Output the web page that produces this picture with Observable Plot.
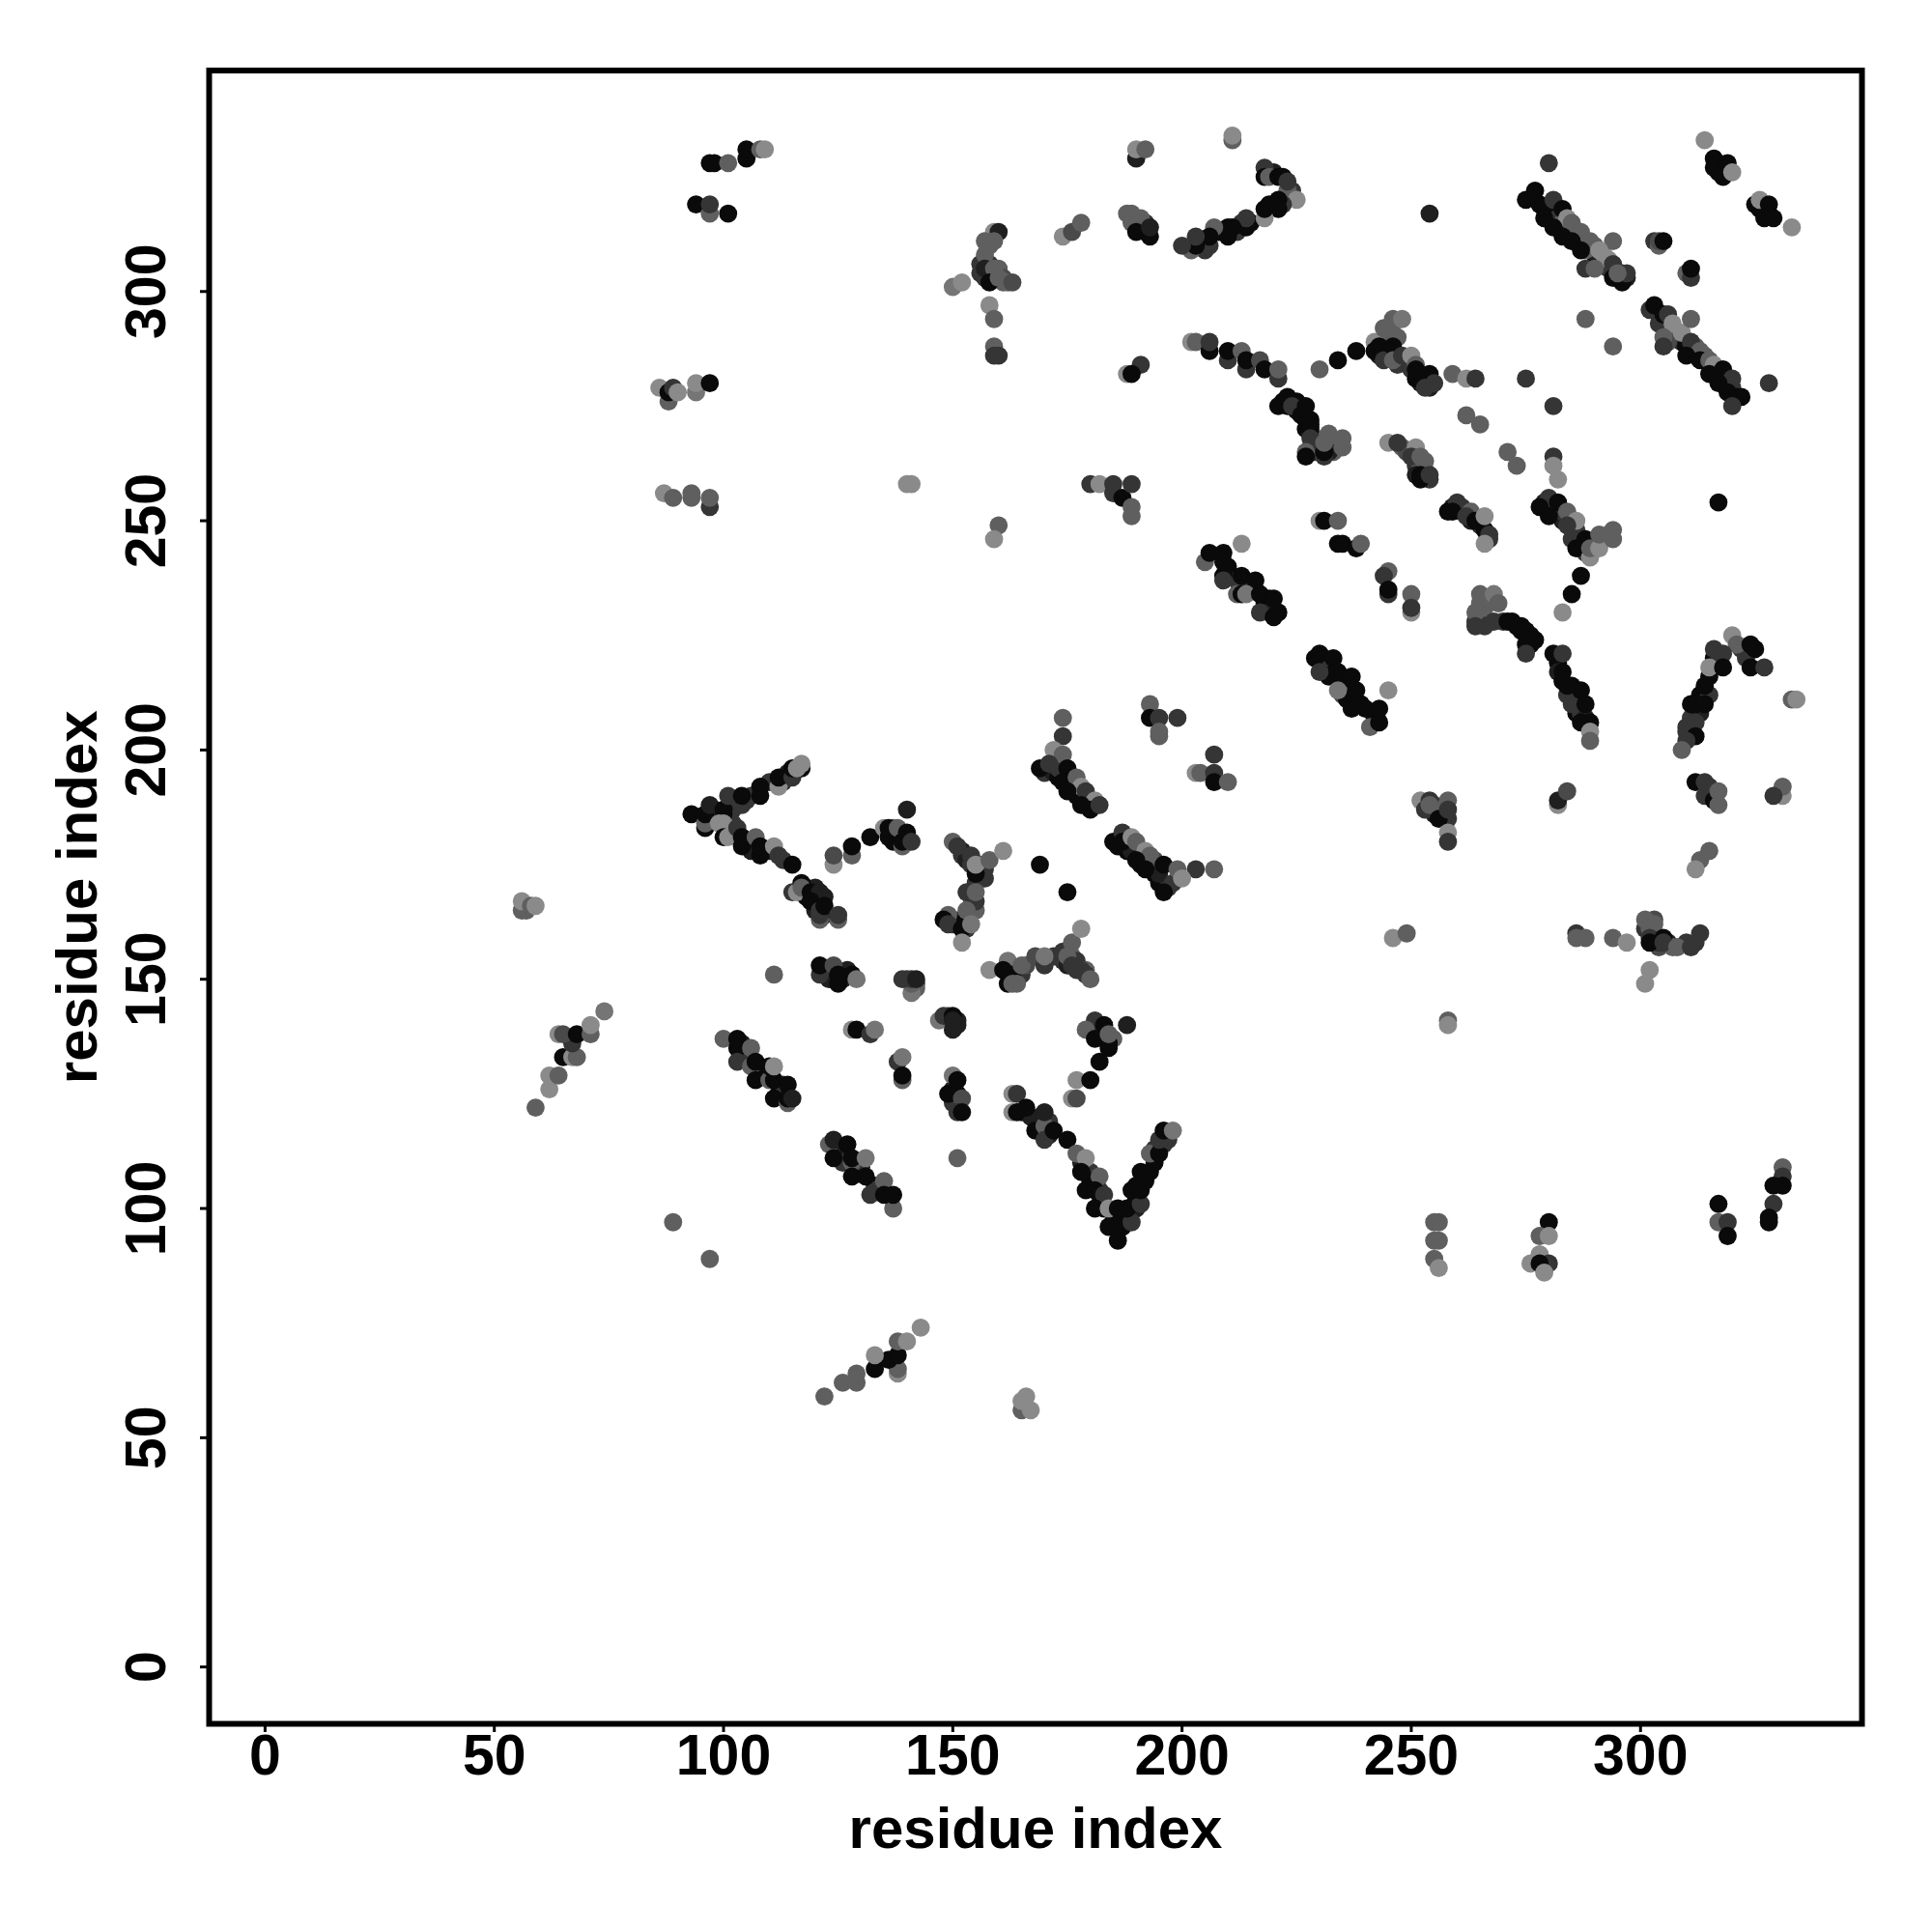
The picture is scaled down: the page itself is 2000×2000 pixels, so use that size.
<!DOCTYPE html>
<html><head><meta charset="utf-8">
<script src="https://cdn.jsdelivr.net/npm/d3@7"></script>
<script src="https://cdn.jsdelivr.net/npm/@observablehq/plot@0.6"></script>
<style>html,body{margin:0;padding:0;background:#fff}</style>
</head><body><div id="chart"></div>
<script>
// each contact: [residue i, residue j, shade score 0 (darkest) .. 3 (lightest)]
const denseDiag1 = [[279,318,0],[280,317,0],[282,316,1],[283,315,2],[284,314,1],[286,312,1],[288,310,0.5],[289,309,1],[290,308,0],[291,307,0.5],[292,306,0],[288,309,2],[286,313,2],[290,310,2],[292,308,3],[294,304,0],[293,305,1],[296,304,1],[295,303,1],[297,303,0.5],[296,303,2]];
const denseDiag2 = [[304,295,0],[306,293,0],[307,292,1],[308,290,2.5],[308,291,1],[309,289,0.5],[310,288,0],[311,287,0],[312,286,0.5],[312,288,2],[314,286,2],[315,284,0],[316,283,0],[317,282,0.5],[318,281,0],[319,280,0],[320,278,0],[320,279,1],[306,291,2],[306,289,1.5],[304,293,1]];
const denseRidge = [[222,276,0],[223,275,0],[225,276,0],[225,274,0],[226,275,0],[227,272,0],[227,270,0],[228,271,0],[228,269,0.5],[228,266,1],[229,265,1],[230,266,1],[231,268,2],[233,267,2],[233,265,2],[232,265,0.5]];
const denseBand = [[264,228,1],[265,229,1],[266,231,2],[265,232,2],[267,233,2],[266,227,1],[268,228,1],[272,228,0],[274,226,0],[276,225,0],[276,223,0],[274,227,0],[282,219,0],[282,217,0.5],[283,215,0],[285,214,0],[285,212,0],[286,212,0.5],[286,208,0],[287,208,1],[284,212,1],[288,207,0.5]];
const denseStrandF = [[210,240,0],[211,238,0],[212,237,1],[215,235,0],[216,235,1],[218,232,0],[219,233,0],[219,230,0.5],[214,236,1],[212,234,2]];
const denseStrandG = [[231,219,0],[232,218,0],[232,216,0],[231,220,1],[235,215,0],[236,214,0],[235,212,1.5],[236,211,0],[238,210,0],[239,210,0],[242,207,0],[242,208,0]];
const denseChevron = [[98,185,0],[98,187,1],[102,188,0],[102,187,1],[105,189,1],[106,190,1],[110,193,1],[113,193,1],[114,195,0.5],[102,184,1],[102,182,0],[105,180,0],[106,178,0.5],[109,178,0],[110,178,0.5],[113,176,1],[118,168,0],[120,167,0],[120,165,0.5],[122,164,0.5],[118,170,0.5],[120,170,0.5],[122,168,0.5],[137,182,0],[137,180,0],[139,181,0.5],[140,180,0.5],[137,183,2]];
const denseDiagAB = [[104,133,0],[105,133,1],[108,130,0],[109,129,0],[112,127,0],[113,125,0],[112,125,0],[113,127,1],[104,136,0.5],[125,113,0.5],[126,112,0.5],[129,110,0],[129,108,0],[130,109,0],[130,108,1],[133,105,0],[133,104,1],[136,103,0.5],[126,110,1]];
const denseY = [[152,178,0.5],[152,177,1],[153,176,0.5],[154,175,1],[155,174,0.5],[156,174,1],[156,175,2],[157,172,1],[155,171,1],[154,168,1],[154,166,2],[155,165,2],[153,163,2],[150,162,1],[150,163,0.5],[152,163,1],[153,161,1],[151,162,0]];
const denseShelf = [[164,151,1],[165,151,1],[166,153,1.5],[172,155,1],[174,154,1],[175,153,0.5],[176,155,2],[177,154,1],[177,152,1],[179,152,2],[164,152,1]];
const denseV = [[165,121,0.5],[167,120,0.5],[168,119,0.5],[169,120,0.5],[169,118,0.5],[171,119,1],[171,116,0.5],[178,110,0.5],[180,108,1],[180,106,0],[182,104,1],[182,103,0],[183,100,0],[185,99,0],[185,97,0],[187,98,0],[187,96,0],[188,98,0],[190,102,0],[190,100,0.5],[190,105,0],[192,106,0],[194,110,0],[194,113,1],[196,114,1]];
const denseStrands = [[170,195,1],[172,195,0.5],[173,194,0],[173,196,1],[176,192,0.5],[177,190,0],[179,189,0],[180,189,1],[176,193,1],[186,179,0],[188,178,0],[189,178,0.5],[191,177,0.5],[191,175,0],[193,175,0.5],[194,173,0],[195,171,0],[194,176,1.5],[197,170,1],[195,173,0.5]];
const denseCrest = [[244,289,1],[243,286,0.5],[245,286,0.5],[245,290,2],[247,290,2],[247,284,1],[249,285,1],[250,283,1],[252,282,0],[252,280,0.5],[253,281,0],[254,279,0.5],[245,287,1]];
const denseStripes = [[259,253,0.5],[261,252,0.5],[261,253,1],[263,250,0.5],[265,249,1],[266,248,0],[267,246,1],[248,266,2],[249,265,1.5],[251,262,1],[252,262,2],[251,260,0.5],[253,261,0.5],[254,259,1]];
const denseFork = [[279,254,0.5],[281,252,0.5],[283,250,0.5],[283,252,1],[285,250,2],[286,248,1],[287,246,1],[287,244,0.5],[288,243,1],[290,245,2],[292,246,2],[293,247,2]];
const denseTop = [[204,311,0.5],[205,309,1],[208,313,0],[209,313,0],[212,313,1],[213,315,1],[215,315,0],[219,319,0],[220,319,0],[224,322,1],[220,326,0.5],[158,310,2],[158,306,1],[159,303,0.5],[160,305,2],[161,303,1.5],[161,302,2],[156,304,1],[156,306,1],[157,303,1],[158,304,1.5],[190,316,2],[191,314,0.5],[192,313,1],[192,315,1],[317,328,0],[317,326,0],[326,318,0],[327,318,0],[328,317,0],[318,327,0]];
const denseRight = [[313,212,0],[315,212,1],[315,216,0],[316,220,0],[317,219,1],[322,222,1],[323,222,0],[323,220,1],[312,208,1],[311,205,1],[311,207,1],[313,208,0.5],[310,204,1],[315,192,1],[315,191,1],[255,186,0.5],[257,186,0],[257,187,1],[258,185,1],[255,188,1],[256,187,2],[303,160,1],[304,157,1.5],[304,158,1],[306,158,0.5],[307,157,2],[310,158,1],[312,158,1],[301,161,1],[303,163,1.5]];
const denseMid = [[149,142,2],[151,141,0.5],[151,140,0.5],[140,150,1],[142,149,1],[142,148,2],[122,152,0.5],[123,150,0.5],[126,150,0.5],[127,152,0.5],[150,126,0.5],[150,123,1],[182,139,0.5],[183,138,0.5],[182,140,1],[185,137,2],[183,137,0],[184,135,0]];

const lowerLeft = [[56,165,2],[57,165,2],[56,167,3],[58,166,2],[59,166,3],[59,122,2],[62,126,3],[62,129,3],[64,129,2],[65,133,0],[67,133,3],[68,133,2],[67,136,1],[64,138,3],[65,138,1.5],[68,138,0],[71,138,2],[71,140,3],[74,143,2.5]];
const bottomDiag = [[122,59,2],[126,62,2],[129,62,2],[129,64,2],[133,65,0],[138,64,3],[138,65,2],[136,67,0],[138,68,0],[133,68,3],[138,71,2],[140,71,3],[143,74,3],[165,56,2],[167,56,3],[165,58,3],[166,59,3],[89,97,2],[97,89,2]];
const chevron = [[93,186,0],[96,183,0],[96,184,2],[96,186,0],[97,188,0.5],[100,186,0],[100,187,0],[101,190,1],[104,188,1],[104,190,0],[108,190,0],[108,192,0],[112,192,3],[112,194,0],[115,194,1],[115,196,0],[117,196,0],[116,196,3],[117,197,3],
 [99,184,3],[100,184,3],[100,181,0],[101,181,3],[103,183,1],[104,179,0],[104,181,0],[107,181,2],[108,177,0],[108,179,0],[111,179,3],[112,177,1],[115,175,0],
 [115,169,1],[116,169,3],[117,171,0],[117,170,2],[119,169,0],[121,169,0.5],[119,167,0],[121,163,2],[121,164,1],[121,165,1],[122,166,0],[125,163,2],[125,164,1]];
const upperArm = [[124,175,3],[124,177,1.5],[128,177,2],[128,179,0],[132,181,0],[135,183,3],[136,181,0],[136,183,0],[138,183,2],[139,179,2],[139,180,0],[140,182,0],[141,180,1],[140,187,0.5]];
const midBlock = [[111,151,2],[121,151,1],[121,153,0],[124,153,1.5],[125,149,0],[125,151,0],[128,151,0],[129,150,2.5],[141,147,2.5],[141,149,2],[139,150,1],[141,150,1],[142,150,0.5],
 [128,139,3],[129,139,0],[132,138,1],[133,139,2.5],[147,141,2.5],[148,142,1],[150,139,0.5],[150,142,0],[150,141,0.5],
 [138,132,1],[139,133,2.5],[139,128,2],[139,129,0],[150,129,2.5],[151,128,0],[149,125,0],[151,125,0],[152,124,1.5],[151,121,1],[152,121,0],[151,111,2]];
const diagA = [[100,137,2],[103,137,0],[103,135,0],[106,135,2],[103,132,1],[106,131,2],[107,132,0],[107,128,0],[110,128,2],[110,131,0],[111,128,0],[111,131,3],[114,127,0],[111,124,0],[114,123,2],[114,124,0],[115,124,0.5]];
const diagB = [[123,114,2],[124,115,0.5],[124,111,0],[127,114,0],[128,110,2],[128,111,0],[131,111,2.5],[128,107,0],[131,107,0],[132,103,1],[135,106,2],[137,100,2],[135,103,0],[137,103,0]];
const yShape = [[150,180,2],[151,179,1],[154,177,1],[157,174,1],[155,173,0],[155,175,3],[158,176,2],[161,178,3],[153,169,1],[155,167,1],[155,169,2],[153,165,2],[149,164,2],[148,163,0],[149,162,1],[152,161,0],[154,162,2.5],[152,158,3]];
const shelf = [[158,152,3],[162,154,2.5],[161,152,0],[163,151,0],[162,149,0],[163,149,2],[164,149,2],[165,153,2],[168,155,1.5],[170,153,1],[170,155,2.5],[174,156,1],[175,155,2],[176,153,1],[176,158,2],[178,161,3],[178,152,1],[179,151,1],[180,150,2]];
const hook = [[181,141,1],[183,140,0],[188,140,0.5],[179,139,2],[181,137,0],[184,136,0],[184,138,2],[182,132,0],[177,128,3],[180,128,0],[176,124,3],[177,124,1.5]];
const vShape = [[163,125,3],[164,125,1],[163,121,3],[164,121,0],[166,122,0],[168,117,0],[170,118,2],[170,115,1],[170,121,0.5],[172,117,0],[175,115,0],
 [177,112,2],[179,111,3],[178,108,0],[182,107,2],[179,104,0],[181,104,0],[183,103,1],[181,100,0],[184,100,3],[184,96,0],[186,96,0],[186,100,0],[186,93,0],[189,97,1],[188,100,0],[191,101,1],[189,104,0],[191,104,0],[191,108,0],[193,108,0],[193,112,2],[195,112,0],[195,115,1],[197,115,1],[196,117,0],[198,117,2.5]];
const isolatedA = [[169,175,0],[175,169,0],[246,159,3],[249,160,2],[258,141,2],[258,140,3]];
const strandC = [[174,207,2],[174,203,1],[172,200,3],[174,199,2],[169,196,0],[171,197,1],[175,196,0],[174,193,0],[177,194,2],[178,192,3],[175,191,0],[179,191,1],[181,189,3],[178,188,0],[180,187,0],[182,188,1]];
const strandD = [[193,210,2],[193,207,0],[195,207,1],[199,207,1],[195,203,2],[195,204,2],[207,199,1],[203,195,3],[204,195,2],[207,195,1],[207,193,0],[210,193,2]];
const strandE = [[185,180,0],[187,182,1],[187,180,0],[189,181,3],[190,180,2],[192,178,3],[193,177,2],[190,176,0],[192,174,0],[196,175,0],[198,171,1],[199,174,2],[203,174,1],[207,174,2],[200,172,3],[196,169,0]];
const strandF = [[205,241,2],[206,243,0],[209,243,0],[209,241,0],[213,245,3],[209,238,0],[209,237,1],[213,238,0],[216,237,0],[213,234,0],[214,234,2.5],[217,234,0],[220,233,0],[217,230,1],[220,229,0],[221,230,0]];
const strandG = [[229,220,0],[230,221,0],[230,217,1],[233,220,0],[234,213,2.5],[234,217,0],[237,216,0],[238,213,0],[237,209,0],[240,209,0],[243,209,0],[241,205,2],[243,206,0],[245,213,3]];
const strandH = [[230,250,3],[231,250,0],[234,250,2],[234,245,0],[235,245,0],[238,244,0],[239,245,2],[245,239,2],[244,238,1],[245,234,1],[245,235,0],[250,234,2],[250,230,3],[250,231,1]];
const topArc = [[211,333,2],[211,334,3],[190,329,0.5],[190,331,3],[192,331,2],[218,327,1],[218,325,0],[219,325,2],[221,325,0],[222,325,0],[223,322,2],[223,324,1],[225,320,3],[222,319,1],[221,320,0],[221,318,0],[218,316,3],[218,318,0],[214,314,0],[214,316,1],[211,314,0],[210,312,0],[210,314,0],[207,314,2],[206,310,1],[206,312,0],[202,309,2],[203,310,0],[203,312,1],[200,310,1]];
const clusterTop = [[174,312,3],[176,313,1.5],[178,315,2],[188,317,2],[189,315,2],[189,317,2],[191,316,2],[190,313,0],[193,312,0],[193,314,0.5],[150,301,2.5],[152,302,3]];
const clusterLeft = [[159,313,3],[160,313,0.5],[157,311,2],[159,311,2],[157,308,2],[157,305,0.5],[159,305,2],[158,302,0],[160,303,2],[162,302,2],[163,302,1.5],[158,297,3],[159,294,2],[159,288,2],[159,286,1],[160,286,1],[191,284,1],[188,282,3],[189,282,0]];
const upperLeft = [[97,328,0],[98,328,0],[101,328,2],[105,329,0],[105,331,0],[108,331,2],[109,331,3],[94,319,0],[97,317,2],[97,319,1],[101,317,0],[86,279,3],[88,276,2],[88,278,0],[89,279,1],[90,278,3],[94,278,2.5],[94,280,3],[97,280,0],[87,256,3],[89,255,2],[93,255,2],[93,256,2],[97,253,1],[97,255,2],[140,258,3],[141,258,3],[160,249,2],[159,246,3],[180,258,1],[182,258,3],[185,258,1],[185,256,1],[187,255,0],[189,258,1],[189,253,2],[189,251,2]];
const ridge = [[202,289,3],[203,289,2],[206,287,0],[206,289,1],[210,285,1],[210,287,0],[213,287,2],[214,283,1],[214,285,0],[217,285,1.5],[218,283,0],[221,281,1],[221,283,2],[230,283,2],[234,285,0],[238,287,0],[221,275,0],[223,277,0],[224,275,1],[227,275,0],[226,273,0],[228,272,0],[228,270,0],[228,268,1],[227,265,2],[227,264,0],[231,264,1],[231,265,0],[231,267,2],[232,269,2],[235,266,2],[235,268,2]];
const crest = [[242,289,3],[242,287,0],[243,288,0],[244,292,2],[246,293,2],[246,294,2],[248,294,2.5],[244,285,1],[246,288,0],[246,285,2],[248,286,1],[250,286,3],[251,284,2],[251,283,0],[251,281,0],[254,282,0],[253,279,1],[255,280,1],[259,282,2],[262,281,3],[264,281,1],[275,281,1],[281,275,1]];
const stripes = [[245,267,3],[247,267,1],[251,266,3],[250,264,1],[252,264,2],[253,263,2],[252,259,0],[252,260,0],[254,260,1],[262,273,2],[265,271,2],[271,265,2],[273,262,2],[281,264,1],[281,262,3],[282,259,3],[258,252,0],[260,254,1],[259,252,0],[263,252,2],[262,251,1],[264,250,0],[266,251,3],[267,247,1],[266,245,3]];
const fork = [[280,255,1],[278,253,0],[282,254,0],[280,251,0],[284,252,2],[286,250,3],[284,249,1],[285,246,1],[288,246,0],[286,244,0],[289,242,3],[289,244,2],[291,244,3],[291,247,2],[294,246,2],[294,248,2],[287,238,0],[285,234,0],[283,230,3]];
const diag1 = [[275,320,0],[277,322,0],[278,319,0],[281,320,1],[279,316,0],[283,318,0],[284,316,3],[281,314,0],[285,315,2],[287,313,2],[283,312,0],[285,311,0],[289,311,2],[287,309,0],[294,311,2],[291,309,3],[293,307,3],[288,305,1],[290,305,2],[294,306,1],[294,303,0],[296,302,0],[297,304,1],[295,304,2]];
const diag2 = [[302,296,1],[303,297,0],[305,295,0],[306,295,1],[307,293,3],[309,291,3],[305,290,2],[305,288,1],[311,289,1],[313,287,2],[310,286,0],[313,285,0],[315,285,2],[316,284,3],[315,282,0],[318,283,0],[320,281,1],[317,280,0],[319,278,0],[321,277,0],[322,277,0],[320,275,1],[328,280,1],[317,254,0],[280,328,1],[254,317,0.5],[288,294,2],[294,288,2],[311,294,2]];
const cornerTop = [[314,333,3],[316,327,0],[316,329,0],[319,328,0],[318,325,0],[320,326,3],[325,319,0],[326,320,3],[328,319,0],[327,316,0],[329,316,0],[333,314,3],[303,311,1],[304,310,2],[304,311,1.5],[305,311,0],[310,304,2],[311,303,1],[311,305,0]];
const band = [[265,234,2],[268,234,2.5],[264,230,2],[269,232,2],[264,227,1],[270,228,1],[271,228,0],[273,227,0],[275,226,0],[277,224,0],[275,223,0],[275,221,1],[281,221,0],[283,221,1],[283,217,0],[284,214,0],[285,210,1],[287,213,0],[288,210,0],[287,206,0],[289,206,0],[289,204,3],[289,202,2]];
const rightArc = [[320,225,3],[316,222,1],[321,223,2],[324,223,0],[325,222,0],[318,221,1],[315,218,3],[318,218,0],[324,218,0],[327,218,1],[314,214,0],[311,210,0],[312,210,0],[314,210,0],[312,206,1],[310,205,1],[312,203,0],[310,202,1],[309,200,2],[333,211,2],[334,211,3],[312,193,0],[314,193,1],[314,190,1],[316,189,0],[317,191,2],[317,188,2],[331,190,3],[331,192,2],[329,190,1],[315,178,2],[313,176,2],[312,174,3]];
const centerRight = [[252,189,3],[254,189,1],[253,187,1],[254,188,2],[256,185,0],[258,189,2],[258,187,1],[258,182,3],[258,180,1],[282,188,3],[282,189,0.5],[284,191,1.5]];
const rightShelf = [[286,160,1],[286,159,2],[288,159,2],[294,159,2],[297,158,3],[301,163,2],[303,162,2],[302,161,2],[302,159,1],[302,158,0],[305,159,0],[305,158,1],[308,157,2],[311,157,1],[313,160,1],[302,152,3],[301,149,3]];
const bottomRight = [[317,101,0],[317,97,2],[319,97,1],[319,94,0],[331,109,2],[331,107,1],[331,105,0],[329,105,0],[329,101,1],[328,98,0],[328,97,0],[255,97,2],[256,97,2],[255,93,2],[256,93,2],[255,89,2],[256,87,3],[280,97,0],[278,94,2],[280,94,3],[276,88,3],[278,90,3],[280,88,1],[278,88,0],[279,86,3]];

const contacts = [denseDiag1,denseDiag2,denseRidge,denseBand,denseStrandF,denseStrandG,denseChevron,denseDiagAB,denseY,denseShelf,denseV,denseStrands,denseCrest,denseStripes,denseFork,denseTop,denseRight,denseMid,
 lowerLeft,bottomDiag,chevron,upperArm,midBlock,diagA,diagB,yShape,shelf,hook,vShape,isolatedA,strandC,strandD,strandE,strandF,strandG,strandH,topArc,clusterTop,clusterLeft,upperLeft,ridge,crest,stripes,fork,diag1,diag2,cornerTop,band,rightArc,centerRight,rightShelf,bottomRight].flat();
const tickValues = [0,50,100,150,200,250,300];
const axisTitle = "residue index";
const font = {fontFamily:"'Liberation Sans',Arial,sans-serif",fontWeight:"bold"};

const plot = Plot.plot({
  width:2000,height:2000,
  marginLeft:216,marginRight:73,marginTop:72.5,marginBottom:216,
  style:{background:"#fff"},
  x:{domain:[-12.2,348.3]},
  y:{domain:[-12.4,348.2]},
  color:{type:"linear",domain:[0,3],range:["#0a0a0a","#8a8a8a"]},
  marks:[
    Plot.dot(contacts,{x:d=>d[0],y:d=>d[1],fill:d=>d[2],r:9.4,stroke:"none"}),
    Plot.frame({stroke:"#000",strokeWidth:6,strokeOpacity:1}),
    Plot.axisX({ticks:tickValues,tickSize:9,strokeWidth:3,stroke:"#000",tickPadding:2,fontSize:59,...font,fill:"#000",label:null,tickFormat:d=>String(d)}),
    Plot.axisY({ticks:tickValues,tickSize:9,strokeWidth:3,stroke:"#000",tickPadding:37,fontSize:59,...font,fill:"#000",tickRotate:-90,label:null,tickFormat:d=>String(d)}),
    Plot.text([axisTitle],{frameAnchor:"bottom",dy:109,text:d=>d,lineAnchor:"middle",textAnchor:"middle",fontSize:60,...font,fill:"#000"}),
    Plot.text([axisTitle],{frameAnchor:"left",dx:-136,text:d=>d,rotate:-90,lineAnchor:"middle",textAnchor:"middle",fontSize:60,...font,fill:"#000"})
  ]
});
document.getElementById("chart").appendChild(plot);
</script></body></html>
